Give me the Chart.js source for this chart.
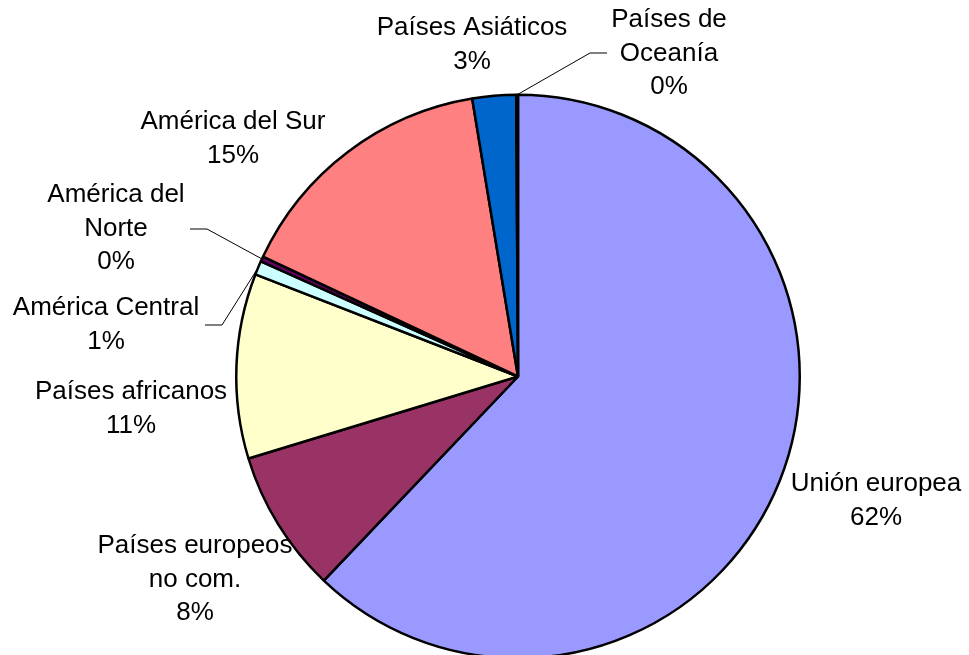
<!DOCTYPE html>
<html>
<head>
<meta charset="utf-8">
<script src="https://cdn.jsdelivr.net/npm/chart.js@4/dist/chart.umd.min.js"></script>
<style>
    html, body { margin: 0; padding: 0; background: #fff; overflow: hidden; }
    #wrap { width: 969px; height: 662px; position: relative; }
</style>
</head>
<body>
<div id="wrap"><canvas id="pieChart"></canvas></div>
<script>
// values (percent of total)
const categories = [
    ["Unión europea"],
    ["Países europeos", "no com."],
    ["Países africanos"],
    ["América Central"],
    ["América del", "Norte"],
    ["América del Sur"],
    ["Países Asiáticos"],
    ["Países de", "Oceanía"]
];
const shares = [62.1, 8.2, 10.6, 0.8, 0.3, 15.4, 2.5, 0.1];
const sliceColors = ["#9999FF", "#993366", "#FFFFCC", "#CCFFFF", "#660066", "#FF8080", "#0066CC", "#CCCCFF"];

// where each label sits (centre of first line) and optional leader line bends
const labelLayout = [
    { x: 876, y: 484 },
    { x: 195, y: 546 },
    { x: 131, y: 392 },
    { x: 106, y: 308, leader: [[222, 325], [205, 325]] },
    { x: 116, y: 195, leader: [[207, 229], [190, 229]] },
    { x: 233, y: 122 },
    { x: 472, y: 28 },
    { x: 669, y: 20, leader: [[590, 53], [607, 53]] }
];

const sliceLabels = {
    id: "sliceLabels",
    afterDatasetsDraw(chart) {
        const ctx = chart.ctx;
        const meta = chart.getDatasetMeta(0);
        const data = chart.data.datasets[0].data;
        const total = data.reduce((a, b) => a + b, 0);
        ctx.save();
        ctx.font = "26px 'Liberation Sans', Arial, sans-serif";
        ctx.fillStyle = "#000";
        ctx.textAlign = "center";
        ctx.textBaseline = "middle";
        meta.data.forEach((arc, i) => {
            const lay = labelLayout[i];
            const pct = Math.round(data[i] / total * 100 + 1e-6) + "%";
            const lines = categories[i].concat([pct]);
            lines.forEach((t, k) => ctx.fillText(t, lay.x, lay.y + k * 33.5));

            if (lay.leader) {
                const p = arc.getProps(["x", "y", "startAngle", "endAngle", "outerRadius"], true);
                const mid = (p.startAngle + p.endAngle) / 2;
                ctx.beginPath();
                ctx.lineWidth = 1;
                ctx.strokeStyle = "#000";
                ctx.moveTo(p.x + Math.cos(mid) * p.outerRadius, p.y + Math.sin(mid) * p.outerRadius);
                lay.leader.forEach(pt => ctx.lineTo(pt[0], pt[1]));
                ctx.stroke();
            }
        });
        ctx.restore();
    }
};

new Chart(document.getElementById("pieChart"), {
    type: "pie",
    data: {
        labels: categories.map(c => c.join(" ")),
        datasets: [{
            data: shares,
            backgroundColor: sliceColors,
            borderColor: "#000",
            borderWidth: 2.5
        }]
    },
    options: {
        responsive: true,
        maintainAspectRatio: false,
        animation: false,
        layout: { padding: { left: 235, right: 168, top: 93, bottom: 2 } },
        plugins: {
            legend: { display: false },
            tooltip: { enabled: false }
        }
    },
    plugins: [sliceLabels]
});
</script>
</body>
</html>
